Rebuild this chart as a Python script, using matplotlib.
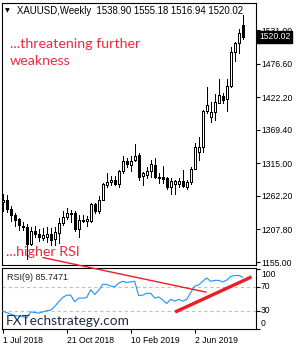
import matplotlib
matplotlib.use('Agg')
import matplotlib.pyplot as plt
import matplotlib.transforms as mtransforms
import numpy as np

plt.rcParams['font.family'] = ['Liberation Sans', 'DejaVu Sans']

# ---------------- data ----------------
opens = [1252, 1255, 1241, 1231, 1224, 1214, 1212, 1184, 1206, 1201,
         1194, 1195, 1200, 1192, 1202, 1218, 1228, 1233, 1234, 1209,
         1222, 1222, 1222, 1249, 1238, 1256, 1280, 1284, 1288, 1282,
         1303, 1318, 1313, 1320, 1328, 1294, 1296, 1302, 1313, 1293,
         1293, 1291, 1276, 1281, 1281, 1286, 1277, 1284, 1306, 1333,
         1341, 1400, 1390, 1398, 1413, 1424, 1419, 1440, 1496, 1510,
         1538.90]
highs = [1266, 1263, 1246, 1234, 1227, 1220, 1216, 1212, 1214, 1208,
         1210, 1211, 1210, 1211, 1226, 1237, 1243, 1240, 1237, 1231,
         1231, 1230, 1250, 1251, 1262, 1283, 1299, 1294, 1294, 1304,
         1327, 1323, 1327, 1346, 1331, 1301, 1309, 1320, 1324, 1300,
         1310, 1292, 1291, 1288, 1291, 1304, 1288, 1309, 1348, 1358,
         1401, 1439, 1414, 1427, 1452, 1429, 1452, 1503, 1512, 1532,
         1555.18]
lows = [1238, 1236, 1222, 1213, 1207, 1207, 1160, 1182, 1195, 1189,
        1191, 1188, 1182, 1183, 1185, 1215, 1224, 1220, 1206, 1196,
        1220, 1213, 1220, 1235, 1234, 1255, 1276, 1280, 1280, 1276,
        1299, 1309, 1302, 1319, 1288, 1280, 1291, 1293, 1291, 1283,
        1283, 1273, 1266, 1266, 1277, 1276, 1274, 1282, 1305, 1320,
        1333, 1397, 1382, 1385, 1413, 1413, 1400, 1439, 1480, 1493,
        1516.94]
closes = [1255, 1241, 1231, 1223, 1215, 1211, 1184, 1206, 1201, 1196,
          1199, 1200, 1191, 1203, 1218, 1228, 1234, 1235, 1209, 1223,
          1223, 1224, 1249, 1237, 1256, 1282, 1285, 1288, 1282, 1303,
          1318, 1314, 1319, 1326, 1292, 1299, 1302, 1314, 1293, 1291,
          1290, 1276, 1286, 1286, 1286, 1278, 1284, 1306, 1341, 1341,
          1399, 1409, 1398, 1415, 1426, 1418, 1440, 1496, 1510, 1526,
          1520.02]
rsi = [29, 27, 24, 22, 21, 20, 18, 28, 27, 26,
       28, 30, 31, 37, 45, 52, 56, 56, 45, 51,
       51, 52, 65, 57, 64, 74, 74, 71, 70, 76,
       79, 77, 78, 79, 55, 56, 59, 59, 51, 53,
       48, 42, 49, 46, 49, 46, 49, 60, 71, 73,
       79, 84.5, 79, 80.6, 80.6, 78, 81, 87, 88.5, 89,
       85.7471]
date_labels = ['1 Jul 2018', '21 Oct 2018', '10 Feb 2019', '2 Jun 2019']
date_index = [0, 16, 32, 48]
price_ticks = [1531.00, 1476.60, 1422.20, 1369.40, 1315.00, 1262.20, 1207.80, 1155.00]
rsi_levels = [100, 70, 30, 0]
header = 'XAUUSD,Weekly  1538.90 1555.18 1516.94 1520.02'
rsi_title = 'RSI(9) 85.7471'
# trend lines drawn on the RSI window (index, value)
rsi_line_down = ([10.1, 50.8], [118.5, 61.0])
rsi_line_up = ([43.1, 62.2], [27.8, 86.3])

# ---------------- figure ----------------
W, H = 300, 350
fig = plt.figure(figsize=(W / 100, H / 100), dpi=100)
fig.patch.set_facecolor('white')

def fx(px):
    return px / W

def fy(py):
    return 1 - py / H

x_left, x_right = 1.5, 255.5
ax = fig.add_axes([fx(x_left), fy(265), fx(x_right - x_left), (265 - 3) / H])
ax2 = fig.add_axes([fx(x_left), fy(329), fx(x_right - x_left), (329 - 268) / H])

n = len(closes)
idx = np.arange(n)
x0 = (x_left - 2.7) / 4.0
x1 = x0 + (x_right - x_left) / 4.0
for a in (ax, ax2):
    a.set_xlim(x0, x1)
    for s in a.spines.values():
        s.set_linewidth(0.8)
        s.set_color('black')

# candles
o = np.array(opens); c = np.array(closes); h = np.array(highs); l = np.array(lows)
ax.vlines(idx, l, h, color='black', linewidth=0.6, antialiased=False, zorder=2)
up = c >= o
body_b = np.minimum(o, c)
body_h = np.maximum(np.abs(c - o), 0.6)
ax.bar(idx[up], body_h[up], bottom=body_b[up], width=0.55,
       facecolor='white', edgecolor='black', linewidth=0.6, antialiased=False, zorder=3)
ax.bar(idx[~up], body_h[~up], bottom=body_b[~up], width=0.55,
       facecolor='black', edgecolor='black', linewidth=0.6, antialiased=False, zorder=3)

ax.set_ylim(1150.14, 1574.76)
ax.yaxis.tick_right()
ax.set_yticks(price_ticks)
ax.set_yticklabels(['%.2f' % p for p in price_ticks])
ax.tick_params(axis='y', length=3, width=0.8, pad=1.5, labelsize=6.2, colors='black')
ax.tick_params(axis='x', bottom=False, labelbottom=False)

# current price box
ax.annotate('%.2f' % closes[-1], xy=(1.0, closes[-1]), xycoords=('axes fraction', 'data'),
            xytext=(2.5, 0), textcoords='offset points', ha='left', va='center',
            fontsize=6.2, color='white',
            bbox=dict(boxstyle='square,pad=0.2', facecolor='black', edgecolor='black'),
            annotation_clip=False, zorder=10)

# RSI window
ax2.plot(idx, rsi, color='#1e90ff', linewidth=0.8, zorder=3)
ax2.set_ylim(-0.5, 101.2)
for lev in (70, 30):
    ax2.axhline(lev, color='#c0c0c0', linewidth=0.8, linestyle=(0, (3, 2.5)), zorder=1)
ax2.yaxis.tick_right()
ax2.set_yticks(rsi_levels)
ax2.set_yticklabels([])
ax2.tick_params(axis='y', length=3, width=0.8)
lab_off = {100: -9, 70: 0, 30: 0, 0: 9.5}
lab_tr = mtransforms.offset_copy(ax2.get_yaxis_transform(), fig=fig, x=4, y=0, units='points')
for lev in rsi_levels:
    ax2.text(1.0, lev + lab_off[lev], str(lev), transform=lab_tr,
             ha='left', va='center', fontsize=6.2, color='black', clip_on=False)

ax2.set_xticks(date_index)
ax2.set_xticklabels(date_labels)
for t in ax2.get_xticklabels():
    t.set_ha('left')
ax2.tick_params(axis='x', length=3, width=0.8, pad=2, labelsize=6.2, colors='black')

# trend lines
ax2.plot(rsi_line_down[0], rsi_line_down[1], color='#ee1c24', linewidth=1.0,
         clip_on=False, zorder=6)
ax2.plot(rsi_line_up[0], rsi_line_up[1], color='#ee1c24', linewidth=2.4,
         solid_capstyle='butt', clip_on=False, zorder=6)

# texts
fig.text(fx(5), fy(10.5), '\u25bc', fontsize=4.5, family='DejaVu Sans', ha='left', va='center', color='black')
fig.text(fx(17), fy(10.5), header, fontsize=6.9, ha='left', va='center', color='black')
red = '#ee2a3c'
fig.text(fx(10), fy(44), '...threatening further', fontsize=10.3, family='Lato',
         ha='left', va='center', color=red)
fig.text(fx(10), fy(61), 'weakness', fontsize=10.3, family='Lato',
         ha='left', va='center', color=red)
fig.text(fx(6.5), fy(252), '...higher RSI', fontsize=10.3, family='Lato',
         ha='left', va='center', color=red, zorder=20)
fig.text(fx(7), fy(277), rsi_title, fontsize=6.5, ha='left', va='center', color='#222222')
fig.text(fx(6), fy(321), 'FXTechstrategy.com', fontsize=9.8, family='Lato',
         ha='left', va='center', color='#1b2a45')

fig.savefig('out.png', dpi=100, facecolor='white')
